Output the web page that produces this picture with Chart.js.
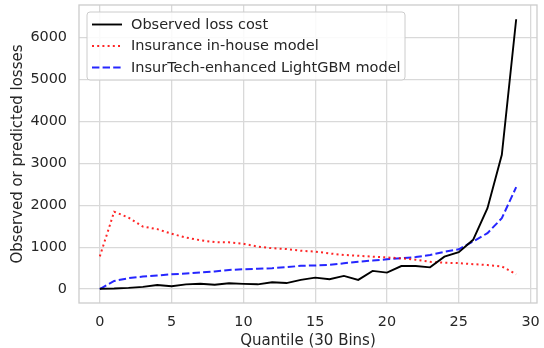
<!DOCTYPE html>
<html>
<head>
<meta charset="utf-8">
<script src="https://cdn.jsdelivr.net/npm/chart.js@4.4.0/dist/chart.umd.min.js"></script>
<style>
  html, body { margin: 0; padding: 0; background: #fff; }
  #c { display: block; }
</style>
</head>
<body>
<canvas id="c" width="544" height="348"></canvas>
<script>
// quantile bins 0..29
const bins = Array.from({length: 30}, (_, i) => i);

const observed = [10, 15, 30, 55, 100, 70, 115, 130, 105, 140, 125, 115, 165, 145, 220,
                  275, 235, 315, 220, 435, 395, 550, 550, 520, 775, 880, 1175, 1930, 3200, 6430];
const inHouse = [780, 1845, 1705, 1490, 1430, 1320, 1230, 1165, 1120, 1115, 1080, 1015, 975, 955, 915,
                 895, 850, 815, 795, 775, 755, 735, 700, 650, 630, 620, 595, 575, 540, 355];
const lightGbm = [0, 195, 262, 300, 325, 355, 372, 395, 420, 458, 475, 485, 500, 524, 555,
                  565, 580, 615, 655, 680, 712, 738, 765, 815, 890, 950, 1135, 1335, 1690, 2430];

const xTicks = [0, 5, 10, 15, 20, 25, 30];
const yTicks = [0, 1000, 2000, 3000, 4000, 5000, 6000];

const labels = ['Observed loss cost', 'Insurance in-house model', 'InsurTech-enhanced LightGBM model'];

const FONT = 'DejaVu Sans';
const TEXT = '#262626';
const GRID = '#d9d9d9';

const toXY = arr => arr.map((v, i) => ({x: bins[i], y: v}));

// frame + legend drawn inside the plot area
const framePlugin = {
  id: 'frame',
  afterDatasetsDraw(chart) {
    const {ctx, chartArea: a} = chart;
    ctx.save();
    ctx.strokeStyle = '#cccccc';
    ctx.lineWidth = 1.3;
    ctx.strokeRect(a.left, a.top, a.right - a.left, a.bottom - a.top);

    // legend box
    const bx = 87, by = 12, bw = 318, bh = 68, r = 3;
    ctx.beginPath();
    ctx.moveTo(bx + r, by);
    ctx.arcTo(bx + bw, by, bx + bw, by + bh, r);
    ctx.arcTo(bx + bw, by + bh, bx, by + bh, r);
    ctx.arcTo(bx, by + bh, bx, by, r);
    ctx.arcTo(bx, by, bx + bw, by, r);
    ctx.closePath();
    ctx.fillStyle = 'rgba(255,255,255,0.85)';
    ctx.fill();
    ctx.strokeStyle = '#cccccc';
    ctx.lineWidth = 1;
    ctx.stroke();

    ctx.font = '14.5px "' + FONT + '"';
    ctx.textBaseline = 'middle';
    chart.data.datasets.forEach((ds, i) => {
      const y = 24.5 + i * 21.5;
      ctx.beginPath();
      ctx.setLineDash(ds.borderDash || []);
      ctx.strokeStyle = ds.borderColor;
      ctx.lineWidth = ds.borderWidth;
      ctx.moveTo(92, y);
      ctx.lineTo(122, y);
      ctx.stroke();
      ctx.setLineDash([]);
      ctx.fillStyle = TEXT;
      ctx.fillText(ds.label, 131, y + 0.5);
    });
    ctx.restore();
  }
};

new Chart(document.getElementById('c'), {
  type: 'line',
  data: {
    datasets: [
      {label: labels[0], data: toXY(observed), borderColor: '#000000', borderWidth: 1.9},
      {label: labels[1], data: toXY(inHouse), borderColor: 'rgba(255,0,0,0.85)', borderWidth: 2, borderDash: [2, 3.2]},
      {label: labels[2], data: toXY(lightGbm), borderColor: 'rgba(0,0,255,0.85)', borderWidth: 2, borderDash: [7.4, 3.2]}
    ]
  },
  options: {
    responsive: false,
    animation: false,
    layout: {padding: {left: 0, top: 5, right: 7, bottom: 0}},
    elements: {point: {radius: 0}, line: {tension: 0, borderCapStyle: 'butt'}},
    plugins: {legend: {display: false}, tooltip: {enabled: false}},
    scales: {
      x: {
        type: 'linear',
        min: -1.45,
        max: 30.45,
        afterFit: s => { s.height = 45; s.paddingLeft = 0; s.paddingRight = 0; },
        afterBuildTicks: s => { s.ticks = xTicks.map(v => ({value: v})); },
        grid: {color: GRID, lineWidth: 1.3, drawTicks: false},
        border: {display: false},
        ticks: {padding: 11, color: TEXT, font: {family: FONT, size: 14.4}, callback: v => String(v)},
        title: {display: true, text: 'Quantile (30 Bins)', color: TEXT, padding: {top: 0, bottom: 0}, font: {family: FONT, size: 15, lineHeight: 0.9}}
      },
      y: {
        type: 'linear',
        min: -330,
        max: 6770,
        afterFit: s => { s.width = 79; s.paddingTop = 0; s.paddingBottom = 0; },
        afterBuildTicks: s => { s.ticks = yTicks.map(v => ({value: v})); },
        grid: {color: GRID, lineWidth: 1.3, drawTicks: false},
        border: {display: false},
        ticks: {padding: 12, color: TEXT, font: {family: FONT, size: 14.4}, callback: v => String(v)},
        title: {display: true, text: 'Observed or predicted losses', color: TEXT, padding: {top: 9, bottom: 0}, font: {family: FONT, size: 15}}
      }
    }
  },
  plugins: [framePlugin]
});
</script>
</body>
</html>
